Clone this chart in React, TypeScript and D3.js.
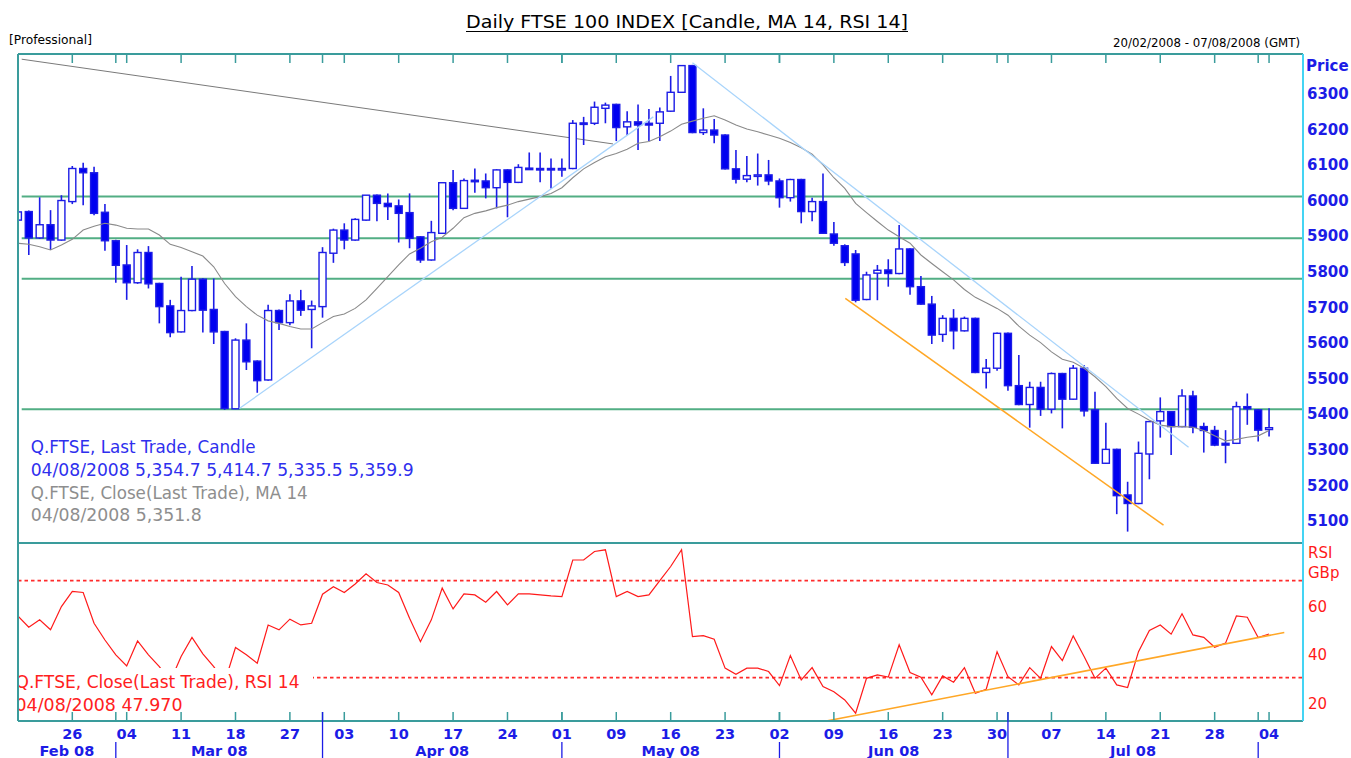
import React from "react";
import * as d3 from "d3";

// ---------- categories (UK trading days shown, 19 Feb – 4 Aug 2008) ----------
const monthNames = ["Feb 08", "Mar 08", "Apr 08", "May 08", "Jun 08", "Jul 08", "Aug 08"];
const febDays = [19, 20, 21, 22, 25, 26, 27, 28, 29];
const marDays = [3, 4, 5, 6, 7, 10, 11, 12, 13, 14, 17, 18, 19, 20, 25, 26, 27, 28, 31];
const aprDays = [1, 2, 3, 4, 7, 8, 9, 10, 11, 14, 15, 16, 17, 18, 21, 22, 23, 24, 25, 28, 29, 30];
const mayDays = [1, 2, 6, 7, 8, 9, 12, 13, 14, 15, 16, 19, 20, 21, 22, 23, 27, 28, 29, 30];
const junDays = [2, 3, 4, 5, 6, 9, 10, 11, 12, 13, 16, 17, 18, 19, 20, 23, 24, 25, 26, 27, 30];
const julDays = [1, 2, 3, 4, 7, 8, 9, 10, 11, 14, 15, 16, 17, 18, 21, 22, 23, 24, 25, 28, 29, 30, 31];
const augDays = [1, 4];
const daysByMonth = [febDays, marDays, aprDays, mayDays, junDays, julDays, augDays];

// date ticks (month index, day)
const tickDates: [number, number][] = [
  [0, 26], [1, 4], [1, 11], [1, 18], [1, 27], [2, 3], [2, 10], [2, 17], [2, 24],
  [3, 1], [3, 9], [3, 16], [3, 23], [4, 2], [4, 9], [4, 16], [4, 23], [4, 30],
  [5, 7], [5, 14], [5, 21], [5, 28], [6, 4],
];
const quarterStarts = [2, 5]; // Apr, Jul

// ---------- series ----------
const opens = [5943, 5967, 5893, 5930, 5887, 5995, 6088, 6076, 5965, 5885, 5817, 5767, 5852, 5765, 5702, 5629, 5689, 5777, 5692, 5630,
  5413, 5606, 5547, 5494, 5689, 5655, 5716, 5692, 5700, 5850, 5915, 5887, 5943, 6013, 5990, 5983, 5964, 5896, 5831, 5906,
  6048, 5976, 6055, 6053, 6034, 6084, 6049, 6089, 6088, 6088, 6087, 6088, 6216, 6215, 6257, 6268, 6205, 6219, 6215, 6215,
  6249, 6302, 6377, 6189, 6196, 6182, 6087, 6058, 6069, 6070, 6053, 6006, 6057, 5967, 5995, 5904, 5871, 5848, 5720, 5794,
  5803, 5793, 5862, 5756, 5707, 5622, 5667, 5632, 5667, 5515, 5527, 5625, 5478, 5425, 5473, 5412, 5512, 5440, 5527, 5410,
  5260, 5299, 5171, 5147, 5286, 5379, 5405, 5363, 5449, 5363, 5352, 5316, 5316, 5419, 5410, 5354.7];
const highs = [5970, 5970, 6007, 5971, 6013, 6095, 6104, 6093, 5988, 5888, 5873, 5861, 5870, 5767, 5719, 5784, 5814, 5780, 5779, 5632,
  5611, 5653, 5549, 5705, 5692, 5735, 5747, 5717, 5867, 5919, 5934, 5948, 6013, 6015, 6018, 6001, 6018, 5898, 5941, 6048,
  6084, 6060, 6088, 6074, 6086, 6086, 6100, 6133, 6133, 6116, 6116, 6224, 6233, 6276, 6273, 6270, 6249, 6268, 6255, 6259,
  6348, 6377, 6379, 6257, 6227, 6184, 6140, 6123, 6130, 6112, 6060, 6059, 6059, 6006, 6074, 5938, 5875, 5859, 5798, 5817,
  5833, 5929, 5864, 5786, 5730, 5676, 5693, 5672, 5669, 5553, 5627, 5627, 5564, 5489, 5489, 5515, 5514, 5536, 5536, 5461,
  5374, 5301, 5208, 5321, 5377, 5445, 5407, 5468, 5464, 5374, 5365, 5353, 5433, 5456, 5412, 5414.7];
const lows = [5940, 5845, 5890, 5859, 5885, 5988, 5985, 5957, 5857, 5767, 5719, 5764, 5751, 5653, 5614, 5627, 5687, 5627, 5595, 5410,
  5412, 5522, 5458, 5492, 5634, 5648, 5674, 5583, 5669, 5823, 5861, 5885, 5941, 5940, 5943, 5880, 5864, 5823, 5829, 5904,
  5971, 5974, 6020, 6004, 5976, 5951, 6047, 6084, 6049, 6032, 6065, 6086, 6154, 6210, 6215, 6165, 6182, 6140, 6165, 6165,
  6247, 6300, 6187, 6182, 6159, 6085, 6046, 6049, 6040, 6041, 5978, 5995, 5934, 5940, 5904, 5871, 5814, 5712, 5718, 5718,
  5756, 5791, 5733, 5705, 5595, 5601, 5580, 5630, 5513, 5470, 5520, 5464, 5423, 5360, 5393, 5400, 5358, 5438, 5391, 5258,
  5258, 5117, 5068, 5145, 5215, 5332, 5283, 5361, 5344, 5290, 5308, 5260, 5314, 5368, 5321, 5335.5];
const closes = [5966, 5893, 5930, 5887, 5998, 6088, 6076, 5962, 5885, 5816, 5767, 5852, 5764, 5700, 5627, 5689, 5777, 5690, 5629, 5414,
  5606, 5545, 5492, 5689, 5655, 5716, 5690, 5702, 5852, 5915, 5887, 5945, 6013, 5990, 5981, 5962, 5892, 5831, 5908, 6048,
  5976, 6054, 6053, 6034, 6084, 6049, 6091, 6087, 6087, 6087, 6088, 6215, 6214, 6260, 6266, 6203, 6219, 6210, 6210, 6247,
  6302, 6377, 6189, 6196, 6182, 6087, 6058, 6068, 6070, 6053, 6006, 6057, 5967, 5995, 5906, 5878, 5824, 5718, 5789, 5802,
  5793, 5862, 5756, 5707, 5620, 5667, 5632, 5667, 5515, 5527, 5625, 5478, 5425, 5473, 5412, 5512, 5440, 5527, 5407, 5260,
  5299, 5169, 5147, 5288, 5377, 5405, 5363, 5449, 5361, 5352, 5311, 5311, 5419, 5413, 5353, 5359.9];
const ma14 = [5878, 5875, 5868, 5859, 5873, 5889, 5915, 5926, 5934, 5929, 5920, 5918, 5918, 5901, 5875, 5866, 5854, 5842, 5812, 5765,
  5728, 5700, 5676, 5660, 5653, 5644, 5637, 5637, 5655, 5672, 5679, 5695, 5719, 5751, 5784, 5817, 5848, 5864, 5882, 5895,
  5920, 5950, 5962, 5969, 5978, 5985, 5995, 6002, 6009, 6018, 6034, 6062, 6087, 6105, 6121, 6130, 6142, 6159, 6164, 6177,
  6193, 6212, 6221, 6229, 6236, 6224, 6210, 6199, 6191, 6182, 6173, 6161, 6146, 6128, 6098, 6062, 6032, 5990, 5964, 5939,
  5915, 5896, 5878, 5845, 5821, 5798, 5775, 5748, 5726, 5711, 5695, 5676, 5645, 5620, 5599, 5573, 5552, 5544, 5527, 5503,
  5475, 5442, 5414, 5398, 5381, 5367, 5363, 5363, 5361, 5352, 5337, 5323, 5327, 5333, 5337, 5351.8];
const rsi14 = [55.4, 50.8, 53.8, 49.7, 59.3, 65.5, 65.1, 52.4, 45.5, 39.4, 34.8, 45.1, 39.4, 34.5, 28.4, 38.7, 46.6, 39.8, 34.5, 28.0,
  42.4, 39.4, 35.9, 51.7, 49.7, 54.1, 51.7, 52.4, 64.4, 67.5, 65.1, 68.6, 72.8, 69.2, 68.2, 65.1, 54.5, 44.8, 53.8, 66.9,
  58.3, 64.5, 64.1, 61.1, 65.5, 60.0, 64.5, 64.5, 64.1, 63.7, 63.4, 78.5, 78.5, 82.0, 82.7, 63.4, 65.5, 63.4, 64.1, 70.0,
  75.8, 82.7, 46.9, 47.3, 45.8, 33.9, 31.4, 33.9, 33.9, 32.5, 26.7, 39.1, 29.0, 34.1, 26.3, 24.2, 20.8, 15.3, 29.7, 31.1,
  30.2, 43.5, 32.1, 30.2, 22.9, 30.7, 28.1, 34.1, 23.5, 25.2, 40.7, 30.4, 27.0, 34.1, 29.7, 42.8, 37.0, 47.2, 38.7, 29.7,
  33.9, 27.0, 25.9, 40.7, 49.4, 51.7, 47.9, 56.3, 47.6, 46.6, 42.5, 44.2, 55.4, 54.9, 46.5, 47.97];

// reference levels and drawn lines (position in trading-day units, value)
const priceLevels = [6009, 5892, 5778, 5412];
const rsiLevels = [70, 30];
const priceTicks = [6300, 6200, 6100, 6000, 5900, 5800, 5700, 5600, 5500, 5400, 5300, 5200, 5100];
const rsiTicks = [60, 40, 20];
const grayTrend: [number, number][] = [[0.35, 6395], [54.7, 6157]];
const blueUpTrend: [number, number][] = [[20.35, 5414], [58.4, 6233]];
const blueDownTrend: [number, number][] = [[62.0, 6385], [107.6, 5305]];
const orangePriceTrend: [number, number][] = [[76.05, 5723], [105.3, 5086]];
const orangeRsiTrend: [number, number][] = [[74.3, 12.1], [116.4, 48.6]];

const BLUE = "#1c1ce6";
const TEAL = "#3a9c9c";

export default function App() {
  const dates: { m: number; d: number }[] = [];
  daysByMonth.forEach((days, m) => days.forEach((d) => dates.push({ m, d })));
  const posOf = (m: number, d: number) => dates.findIndex((t) => t.m === m && t.d === d);

  const L = 18, R = 1303, T = 54, MID = 543, B = 721;
  const x = d3.scaleLinear().domain([0, 118]).range([17.9, 1301.7]);
  const yP = d3.scaleLinear().domain([5036, 6409.6]).range([MID, T]);
  const yR = d3.scaleLinear().domain([12.1, 85.5]).range([B, MID]);

  const maLine = d3.line<number>().x((_, i) => x(i)).y((v) => yP(v))(ma14) || "";
  const rsiLine = d3.line<number>().x((_, i) => x(i)).y((v) => yR(v))(rsi14) || "";
  const seg = (pts: [number, number][], y: d3.ScaleLinear<number, number>) =>
    d3.line<[number, number]>().x((p) => x(p[0])).y((p) => y(p[1]))(pts) || "";

  const monthStarts = daysByMonth.map((days, m) => posOf(m, days[0])).slice(1);
  const tickPos = tickDates.map(([m, d]) => posOf(m, d));
  const bw = 7;

  // month label centres
  const bounds = [L, ...monthStarts.map((p) => x(p))];
  const monthLabels = monthNames.slice(0, 6).map((name, i) => ({ name, cx: (bounds[i] + bounds[i + 1]) / 2 }));

  const font = "DejaVu Sans, Verdana, sans-serif";

  return (
    <div style={{ position: "absolute", left: 0, top: 0, width: 1351, height: 758, background: "#fff" }}>
      <svg width={1351} height={758} style={{ display: "block" }}>
        <defs>
          <clipPath id="pclip"><rect x={L + 1} y={T} width={R - L - 1} height={MID - T} /></clipPath>
          <clipPath id="rclip"><rect x={L + 1} y={MID} width={R - L - 1} height={B - MID} /></clipPath>
          <clipPath id="lclip"><rect x={L + 1} y={MID} width={400} height={B - MID} /></clipPath>
        </defs>
        <rect width={1351} height={758} fill="#fff" />

        {/* title */}
        <text x={466} y={28} fontFamily={font} fontSize={17.5} textLength={442} lengthAdjust="spacingAndGlyphs" fill="#000">
          Daily FTSE 100 INDEX [Candle, MA 14, RSI 14]
        </text>
        <line x1={466} x2={908} y1={31.5} y2={31.5} stroke="#000" strokeWidth={1} />
        <text x={9} y={44} fontFamily={font} fontSize={11.5} textLength={83} lengthAdjust="spacingAndGlyphs" fill="#000">[Professional]</text>
        <text x={1113} y={47} fontFamily={font} fontSize={11.5} textLength={187} lengthAdjust="spacingAndGlyphs" fill="#000">20/02/2008 - 07/08/2008 (GMT)</text>

        {/* price panel */}
        <g clipPath="url(#pclip)">
          {priceLevels.map((v) => (
            <line key={v} x1={21.7} x2={R} y1={yP(v)} y2={yP(v)} stroke="#52ae84" strokeWidth={2} />
          ))}
          <path d={seg(grayTrend, yP)} stroke="#7a7a7a" strokeWidth={1} fill="none" />
          {opens.map((o, i) => {
            const c = closes[i], h = highs[i], l = lows[i];
            const up = c >= o;
            const top = yP(Math.max(o, c));
            const ht = Math.max(1.5, Math.abs(yP(o) - yP(c)));
            return (
              <g key={i}>
                <line x1={x(i)} x2={x(i)} y1={yP(h)} y2={yP(l)} stroke={BLUE} strokeWidth={1.6} />
                <rect x={x(i) - bw / 2} y={top} width={bw} height={ht} fill={up ? "#fff" : "#0000f0"} stroke={BLUE} strokeWidth={1.4} />
              </g>
            );
          })}
          <path d={maLine} stroke="#8a8a8a" strokeWidth={1.1} fill="none" />
          <path d={seg(blueUpTrend, yP)} stroke="#a8d4fb" strokeWidth={1.3} fill="none" />
          <path d={seg(blueDownTrend, yP)} stroke="#a8d4fb" strokeWidth={1.3} fill="none" />
          <path d={seg(orangePriceTrend, yP)} stroke="#ffa726" strokeWidth={1.5} fill="none" />
        </g>

        {/* price legend */}
        <g fontFamily={font} fontSize={17}>
          <text x={30.7} y={452.7} fill="#2f2fee" textLength={225} lengthAdjust="spacingAndGlyphs">Q.FTSE, Last Trade, Candle</text>
          <text x={30.7} y={475.5} fill="#2f2fee" textLength={383} lengthAdjust="spacingAndGlyphs">04/08/2008 5,354.7 5,414.7 5,335.5 5,359.9</text>
          <text x={30.7} y={498.5} fill="#8e8e8e" textLength={277} lengthAdjust="spacingAndGlyphs">Q.FTSE, Close(Last Trade), MA 14</text>
          <text x={30.7} y={521} fill="#8e8e8e" textLength={171} lengthAdjust="spacingAndGlyphs">04/08/2008 5,351.8</text>
        </g>

        {/* RSI panel */}
        <g clipPath="url(#rclip)">
          {rsiLevels.map((v) => (
            <line key={v} x1={L} x2={R} y1={yR(v)} y2={yR(v)} stroke="#ff2b2b" strokeWidth={1.6} strokeDasharray="3.5,3" />
          ))}
          <path d={rsiLine} stroke="#ff1a1a" strokeWidth={1.2} fill="none" />
          <path d={seg(orangeRsiTrend, yR)} stroke="#ffa726" strokeWidth={1.6} fill="none" />
          <rect x={L} y={668} width={295} height={50} fill="#fff" />
        </g>
        <g clipPath="url(#lclip)" fontFamily={font} fontSize={17} fill="#ff2020">
          <text x={15.5} y={688.3} textLength={284} lengthAdjust="spacingAndGlyphs">Q.FTSE, Close(Last Trade), RSI 14</text>
          <text x={15.5} y={710.7} textLength={167} lengthAdjust="spacingAndGlyphs">04/08/2008 47.970</text>
        </g>

        {/* frame */}
        <line x1={L} x2={R} y1={T} y2={T} stroke={TEAL} strokeWidth={2} />
        <line x1={L} x2={R} y1={MID} y2={MID} stroke={TEAL} strokeWidth={2} />
        <line x1={L} x2={R} y1={B} y2={B} stroke={TEAL} strokeWidth={2} />
        <line x1={L} x2={L} y1={T} y2={B} stroke={TEAL} strokeWidth={2} />
        <line x1={R} x2={R} y1={T} y2={B} stroke="#44d4f4" strokeWidth={2} />

        {/* date ticks on top and bottom */}
        {[...tickPos, ...monthStarts].map((p, i) => (
          <g key={"t" + i}>
            <line x1={x(p)} x2={x(p)} y1={T} y2={T + 9} stroke={TEAL} strokeWidth={1.5} />
            <line x1={x(p)} x2={x(p)} y1={B} y2={B - 9} stroke={TEAL} strokeWidth={1.5} />
          </g>
        ))}

        {/* bottom axis labels */}
        <g fontFamily={font} fontWeight="bold" fontSize={14.5} fill={BLUE} textAnchor="middle">
          {tickDates.map(([, d], i) => (
            <text key={"d" + i} x={x(tickPos[i])} y={739}>{String(d).padStart(2, "0")}</text>
          ))}
          {monthLabels.map((ml) => (
            <text key={ml.name} x={ml.cx} y={756}>{ml.name}</text>
          ))}
        </g>
        {monthStarts.map((p, i) => {
          const q = quarterStarts.includes(i + 1);
          return (
            <line key={"ms" + i} x1={x(p)} x2={x(p)} y1={q ? 712 : 742} y2={758} stroke={BLUE} strokeWidth={1.3} />
          );
        })}

        {/* right axes */}
        <g fontFamily={font} fontWeight="bold" fontSize={15} fill={BLUE}>
          <text x={1306} y={70.5}>Price</text>
          {priceTicks.map((v) => (
            <text key={v} x={1307} y={yP(v) + 6}>{v}</text>
          ))}
        </g>
        <g fontFamily={font} fontSize={15} fill="#ff1a1a">
          <text x={1308} y={558}>RSI</text>
          <text x={1308} y={578}>GBp</text>
          {rsiTicks.map((v) => (
            <text key={v} x={1308} y={yR(v) + 7}>{v}</text>
          ))}
        </g>
      </svg>
    </div>
  );
}
